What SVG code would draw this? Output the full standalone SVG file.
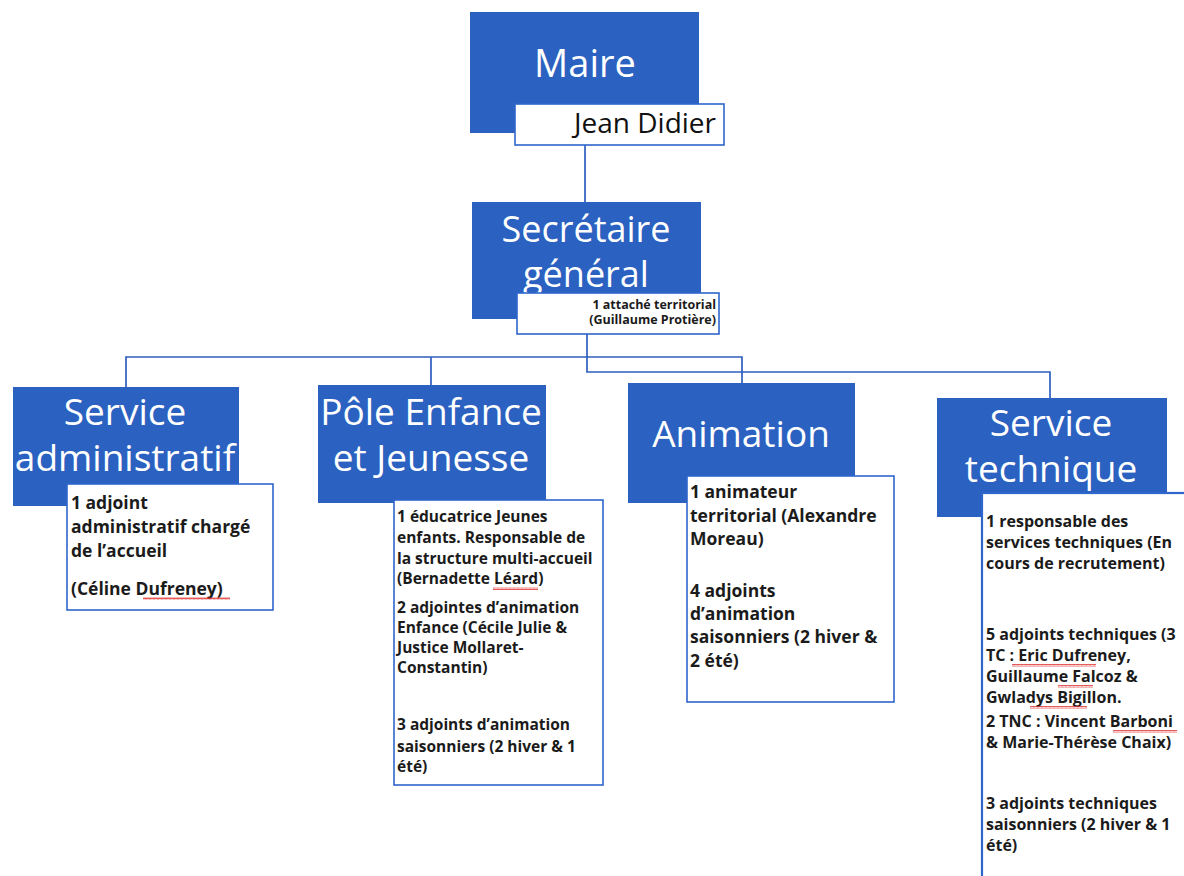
<svg xmlns="http://www.w3.org/2000/svg" width="1184" height="876" viewBox="0 0 1184 876">
<defs>
<style>
.head{fill:#2b61c0;}
.sub{fill:#ffffff;stroke:#2f66cc;stroke-width:1.6;}
.title{font-family:"Open Sans","Liberation Sans",sans-serif;font-size:37px;fill:#ffffff;text-anchor:middle;}
.body{font-family:"Open Sans","Liberation Sans",sans-serif;font-weight:bold;fill:#1b1b1b;}
.conn{fill:none;stroke:#2f5fbf;stroke-width:1.7;}
.sq{fill:url(#squig);}
</style>
<pattern id="squig" width="4" height="3" patternUnits="userSpaceOnUse">
<path d="M0 2.5 L1 0.5 L2 2.5 L3 0.5 L4 2.5" fill="none" stroke="#e0302e" stroke-width="0.8"/>
</pattern>
</defs>
<rect width="1184" height="876" fill="#ffffff"/>

<g id="connectors">
<path class="conn" d="M585 145 V202"/>
<path class="conn" d="M587 334 V372 H1050 V398"/>
<path class="conn" d="M126 387 V357 H742 V383"/>
<path class="conn" d="M431 357 V385"/>
</g>

<g id="maire">
<rect class="head" x="470" y="12" width="229" height="121"/>
<text class="title" x="585" y="77" style="font-size:38px">Maire</text>
<rect class="sub" x="515" y="104" width="209" height="41"/>
<text x="716" y="133" text-anchor="end" style="font-family:'Open Sans','Liberation Sans',sans-serif;font-size:28px;fill:#111">Jean Didier</text>
</g>

<g id="secretaire">
<rect class="head" x="472" y="202" width="229" height="117"/>
<text class="title" x="586" y="242" style="font-size:36px"><tspan x="586">Secrétaire</tspan><tspan x="586" dy="45">général</tspan></text>
<rect class="sub" x="517" y="293" width="202" height="41"/>
<text class="body" x="716" y="309" text-anchor="end" style="font-size:12.5px"><tspan x="716">1 attaché territorial</tspan><tspan x="716" dy="15">(Guillaume Protière)</tspan></text>
</g>

<g id="service-administratif">
<rect class="head" x="13" y="387" width="226" height="119"/>
<text class="title" x="125" y="425"><tspan x="125">Service</tspan><tspan x="125" dy="46">administratif</tspan></text>
<rect class="sub" x="67" y="484" width="206" height="126"/>
<text class="body" style="font-size:17.5px" x="71" y="509"><tspan x="71">1 adjoint</tspan><tspan x="71" dy="24">administratif chargé</tspan><tspan x="71" dy="24">de l’accueil</tspan><tspan x="71" dy="38">(Céline Dufreney)</tspan></text>
<rect class="sq" x="143" y="597" width="87" height="3"/>
</g>

<g id="pole-enfance">
<rect class="head" x="318" y="385" width="228" height="118"/>
<text class="title" x="431" y="425"><tspan x="431">Pôle Enfance</tspan><tspan x="431" dy="46">et Jeunesse</tspan></text>
<rect class="sub" x="394" y="500" width="209" height="285"/>
<text class="body" style="font-size:15.5px" x="397" y="522"><tspan x="397">1 éducatrice Jeunes</tspan><tspan x="397" dy="21">enfants. Responsable de</tspan><tspan x="397" dy="21">la structure multi-accueil</tspan><tspan x="397" dy="20">(Bernadette Léard)</tspan><tspan x="397" dy="29">2 adjointes d’animation</tspan><tspan x="397" dy="20">Enfance (Cécile Julie &amp;</tspan><tspan x="397" dy="20">Justice Mollaret-</tspan><tspan x="397" dy="20">Constantin)</tspan><tspan x="397" dy="57">3 adjoints d’animation</tspan><tspan x="397" dy="22">saisonniers (2 hiver &amp; 1</tspan><tspan x="397" dy="20">été)</tspan></text>
<rect class="sq" x="493" y="587" width="45" height="3"/>
</g>

<g id="animation">
<rect class="head" x="628" y="383" width="227" height="120"/>
<text class="title" x="741" y="447">Animation</text>
<rect class="sub" x="687" y="476" width="207" height="226"/>
<text class="body" style="font-size:17.5px" x="690" y="498"><tspan x="690">1 animateur</tspan><tspan x="690" dy="24">territorial (Alexandre</tspan><tspan x="690" dy="23">Moreau)</tspan><tspan x="690" dy="52">4 adjoints</tspan><tspan x="690" dy="23">d’animation</tspan><tspan x="690" dy="23">saisonniers (2 hiver &amp;</tspan><tspan x="690" dy="24">2 été)</tspan></text>
</g>

<g id="service-technique">
<rect class="head" x="937" y="398" width="230" height="119"/>
<text class="title" x="1051" y="436"><tspan x="1051">Service</tspan><tspan x="1051" dy="46">technique</tspan></text>
<rect class="sub" x="982" y="493" width="240" height="420" style="stroke-width:2.2"/>
<text class="body" style="font-size:16px" x="986" y="527"><tspan x="986">1 responsable des</tspan><tspan x="986" dy="21">services techniques (En</tspan><tspan x="986" dy="21">cours de recrutement)</tspan><tspan x="986" dy="71">5 adjoints techniques (3</tspan><tspan x="986" dy="21">TC : Eric Dufreney,</tspan><tspan x="986" dy="21">Guillaume Falcoz &amp;</tspan><tspan x="986" dy="21">Gwladys Bigillon.</tspan><tspan x="986" dy="24">2 TNC : Vincent Barboni</tspan><tspan x="986" dy="21">&amp; Marie-Thérèse Chaix)</tspan><tspan x="986" dy="61">3 adjoints techniques</tspan><tspan x="986" dy="21">saisonniers (2 hiver &amp; 1</tspan><tspan x="986" dy="21">été)</tspan></text>
<rect class="sq" x="1012" y="664" width="84" height="3"/>
<rect class="sq" x="1058" y="685" width="35" height="3"/>
<rect class="sq" x="1030" y="706" width="57" height="3"/>
<rect class="sq" x="1113" y="730" width="64" height="3"/>
</g>
</svg>
